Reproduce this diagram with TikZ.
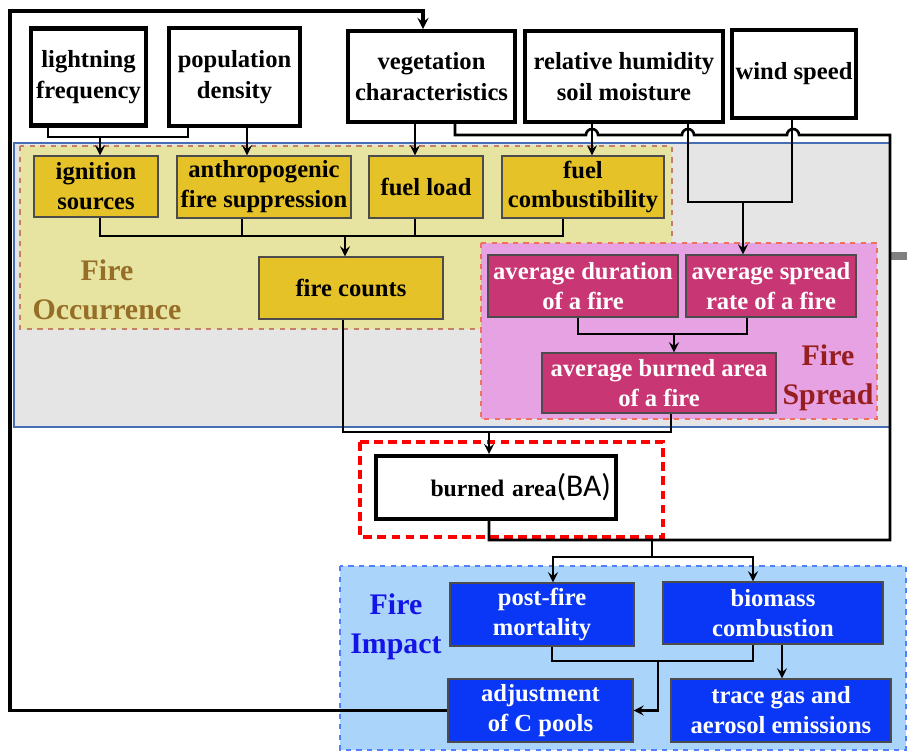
\documentclass[tikz,border=0pt]{standalone}
\usepackage{fontspec}
\setmainfont{Liberation Serif}
\newfontfamily\bafont{Carlito}
\definecolor{firegray}{RGB}{229,229,229}
\definecolor{fireedge}{RGB}{70,110,180}
\definecolor{occfill}{RGB}{230,228,160}
\definecolor{occedge}{RGB}{196,128,100}
\definecolor{occtext}{RGB}{150,110,40}
\definecolor{spreadfill}{RGB}{230,162,226}
\definecolor{spreadedge}{RGB}{240,112,96}
\definecolor{spreadtext}{RGB}{150,30,30}
\definecolor{impactfill}{RGB}{170,212,250}
\definecolor{impactedge}{RGB}{80,128,255}
\definecolor{impacttext}{RGB}{20,20,230}
\definecolor{yellowfill}{RGB}{230,194,41}
\definecolor{pinkfill}{RGB}{200,55,115}
\definecolor{bluefill}{RGB}{10,55,245}
\begin{document}
\begin{tikzpicture}[x=0.02cm, y=-0.02cm, >=stealth,
    every node/.style={font=\bfseries\fontsize{14}{17}\selectfont, align=center, inner sep=1pt},
    inbox/.style={draw, line width=2.1pt, fill=white, font=\bfseries\fontsize{14}{18}\selectfont},
    occbox/.style={draw=black!70, line width=0.7pt, fill=yellowfill},
    spreadbox/.style={draw=black!70, line width=0.7pt, fill=pinkfill, text=white},
    impactbox/.style={draw=black!70, line width=0.7pt, fill=bluefill, text=white},
    region/.style={font=\bfseries\fontsize{17}{22}\selectfont},
    link/.style={line width=1.5pt}]
    \useasboundingbox (0,0) rectangle (907,752);
    \draw[fireedge, fill=firegray, line width=0.8pt] (14,143) rectangle (890,427);
    \draw[occedge, fill=occfill, dashed, line width=0.8pt] (20,146) rectangle (672,329);
    \draw[spreadedge, fill=spreadfill, dashed, line width=0.8pt] (481,243) rectangle (877,419);
    \draw[impactedge, fill=impactfill, dashed, line width=0.8pt] (340,566) rectangle (906,750);
    \draw[red, line width=2.3pt, dash pattern=on 5pt off 3pt] (360,442) rectangle (663,537);
    \draw[gray, line width=4.5pt] (890,256) -- (907,256);

    \node[inbox, line width=2.6pt, minimum width=2.3cm, minimum height=1.94cm] (lightning) at (88.5,77) {lightning\\frequency};
    \node[inbox, line width=2.6pt, minimum width=2.62cm, minimum height=1.96cm] (population) at (234.5,77) {population\\density};
    \node[inbox, minimum width=3.34cm, minimum height=1.82cm] (vegetation) at (431.5,76.5) {vegetation\\characteristics};
    \node[inbox, minimum width=3.96cm, minimum height=1.82cm] (humidity) at (624,76.5) {relative humidity\\soil moisture};
    \node[inbox, minimum width=2.48cm, minimum height=1.76cm] (wind) at (794,74) {wind speed};

    \node[occbox, minimum width=2.48cm, minimum height=1.22cm] (ignition) at (96,186.5) {ignition\\sources};
    \node[occbox, minimum width=3.48cm, minimum height=1.24cm] (suppression) at (264,187) {anthropogenic\\fire suppression};
    \node[occbox, minimum width=2.28cm, minimum height=1.24cm] (fuelload) at (426,187) {fuel load};
    \node[occbox, minimum width=3.24cm, minimum height=1.24cm] (combust) at (583,187) {fuel\\combustibility};
    \node[occbox, minimum width=3.68cm, minimum height=1.24cm] (counts) at (351,288) {fire counts};
    \node[region, text=occtext] (occlabel) at (107,290) {Fire\\Occurrence};

    \node[spreadbox, minimum width=3.8cm, minimum height=1.24cm] (duration) at (583,286) {average duration\\of a fire};
    \node[spreadbox, minimum width=3.4cm, minimum height=1.24cm] (rate) at (771,286) {average spread\\rate of a fire};
    \node[spreadbox, minimum width=4.68cm, minimum height=1.2cm] (avgarea) at (659,383) {average burned area\\of a fire};
    \node[region, text=spreadtext] (spreadlabel) at (828,378) {Fire\\Spread};

    \node[inbox, line width=2.3pt, minimum height=1.26cm, text width=4.6cm, align=right, inner xsep=3pt, font=\bfseries\fontsize{13.5}{16}\selectfont] (ba) at (496,487.5) {burned area{\bafont\mdseries\fontsize{18}{18}\selectfont(BA)}};

    \node[impactbox, minimum width=3.68cm, minimum height=1.26cm] (mortality) at (542,614.5) {post-fire\\mortality};
    \node[impactbox, minimum width=4.4cm, minimum height=1.24cm] (biomass) at (773,613) {biomass\\combustion};
    \node[impactbox, minimum width=3.7cm, minimum height=1.26cm] (cpools) at (540.5,710.5) {adjustment\\of C pools};
    \node[impactbox, minimum width=4.4cm, minimum height=1.26cm] (emission) at (781,710.5) {trace gas and\\aerosol emissions};
    \node[region, text=impacttext] (impactlabel) at (396,627) {Fire\\Impact};

    \coordinate (igjoin) at (100,137);
    \coordinate (spjoin) at (743,202);
    \coordinate (cjoin) at (345,236);
    \coordinate (ajoin) at (674,334);
    \coordinate (bjoin) at (489,432);
    \coordinate (ijoin) at (652,557);
    \coordinate (pjoin) at (658,661);

    \draw[link] (lightning.south -| 48,0) -- (48,137) -| (population.south -| 188,0);
    \draw[link, ->] (igjoin) -- (ignition.north -| igjoin);
    \draw[link, ->] (population.south -| 247,0) -- (suppression.north -| 247,0);
    \draw[link, ->] (vegetation.south -| 415,0) -- (fuelload.north -| 415,0);
    \draw[link, ->] (humidity.south -| 592,0) -- (combust.north -| 592,0);
    \draw[link] (humidity.south -| 688,0) -- (688,202) -- (792,202) -- (wind.south -| 792,0);
    \draw[link, ->] (spjoin) -- (rate.north -| spjoin);

    \draw[link] (ignition.south -| 100,0) -- (100,236) -- (563,236) -- (combust.south -| 563,0);
    \draw[link] (suppression.south -| 242,0) -- (242,236);
    \draw[link] (fuelload.south -| 415,0) -- (415,236);
    \draw[link, ->] (cjoin) -- (counts.north -| cjoin);

    \draw[link] (duration.south -| 578,0) -- (578,334) -- (747,334) -- (rate.south -| 747,0);
    \draw[link, ->] (ajoin) -- (avgarea.north -| ajoin);

    \draw[link] (counts.south -| 343,0) -- (343,432) -- (671,432) -- (avgarea.south -| 671,0);
    \draw[link, ->] (bjoin) -- (ba.north -| bjoin);

    \draw[link] (ba.south -| 489,0) -- (489,540) -- (890,540) -- (890,135) -- (799,135)
        arc[start angle=0, end angle=180, radius=0.12cm] -- (694,135)
        arc[start angle=0, end angle=180, radius=0.12cm] -- (598,135)
        arc[start angle=0, end angle=180, radius=0.12cm] -- (455,135) -- (vegetation.south -| 455,0);

    \draw[link] (652,540) -- (ijoin);
    \draw[link, ->] (ijoin) -| (mortality.north -| 553,0);
    \draw[link, ->] (ijoin) -| (biomass.north -| 753,0);
    \draw[link] (mortality.south -| 552,0) -- (552,661) -- (753,661) -- (biomass.south -| 753,0);
    \draw[link, ->] (pjoin) |- (cpools.east);
    \draw[link, ->] (biomass.south -| 782,0) -- (emission.north -| 782,0);

    \draw[line width=1.8pt, ->] (cpools.west) -| (10,11) -| (vegetation.north -| 423,0);
\end{tikzpicture}
\end{document}
